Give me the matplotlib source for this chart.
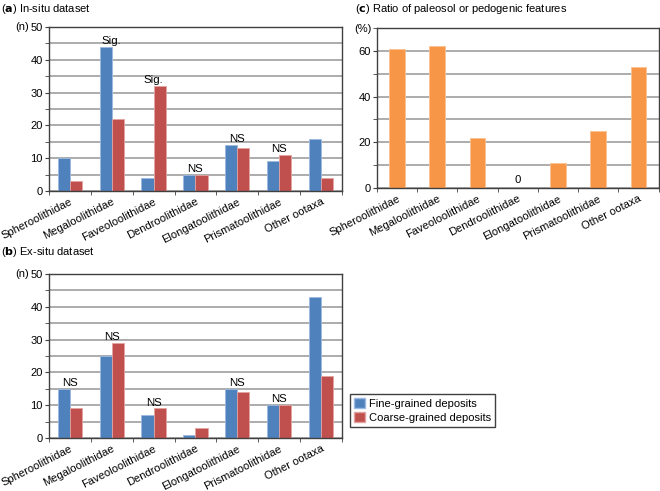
import matplotlib
matplotlib.use('Agg')
import matplotlib.pyplot as plt
from matplotlib.patches import Patch

plt.rcParams['font.family'] = ['Liberation Sans', 'DejaVu Sans']

taxa = ["Spheroolithidae", "Megaloolithidae", "Faveoloolithidae", "Dendroolithidae",
        "Elongatoolithidae", "Prismatoolithidae", "Other ootaxa"]

insitu_fine = [10, 44, 4, 5, 14, 9, 16]
insitu_coarse = [3, 22, 32, 5, 13, 11, 4]
insitu_marks = ["", "Sig.", "Sig.", "NS", "NS", "NS", ""]

exsitu_fine = [15, 25, 7, 1, 15, 10, 43]
exsitu_coarse = [9, 29, 9, 3, 14, 10, 19]
exsitu_marks = ["NS", "NS", "NS", "", "NS", "NS", ""]

paleosol_pct = [61, 62, 22, 0, 11, 25, 53]

BLUE = "#4F81BD"
RED = "#C0504D"
ORANGE = "#F79646"
GRID = "#A6A6A6"
FRAME = "#404040"
FS = 8.0


def style_axes(ax, ymax, major, minor):
    ax.set_xlim(-0.5, len(taxa) - 0.5)
    ax.set_ylim(0, ymax)
    ax.set_yticks(range(0, ymax + 1, major))
    ax.set_yticks(range(0, ymax + 1, minor), minor=True)
    ax.yaxis.grid(True, which="both", color=GRID, linewidth=1.3)
    ax.set_axisbelow(True)
    for s in ax.spines.values():
        s.set_color(FRAME)
        s.set_linewidth(1.0)
    ax.set_xticks(range(len(taxa)))
    ax.set_xticklabels(taxa, rotation=27, ha="right", rotation_mode="anchor", fontsize=FS)
    ax.set_xticks([i - 0.5 for i in range(len(taxa) + 1)], minor=True)
    ax.tick_params(axis="x", which="major", length=0, pad=4)
    ax.tick_params(axis="x", which="minor", length=3, color=FRAME, direction="out")
    ax.tick_params(axis="y", which="both", length=3, color=FRAME, labelsize=FS, pad=1.5)


def grouped(ax, fine, coarse, marks):
    w = 0.29
    x = range(len(taxa))
    ax.bar([i - w / 2 for i in x], fine, w, color=BLUE, edgecolor="#9DB9DF", linewidth=0.6)
    ax.bar([i + w / 2 for i in x], coarse, w, color=RED, edgecolor="#E3A3A1", linewidth=0.6)
    for i, m in enumerate(marks):
        if m:
            ax.annotate(m, (i, max(fine[i], coarse[i])), xytext=(0, 0.5),
                        textcoords="offset points", ha="center", va="bottom", fontsize=FS + 0.2)
    style_axes(ax, 50, 10, 5)


fig = plt.figure(figsize=(6.6, 4.91), dpi=100)

ax_a = fig.add_axes([0.0742, 0.611, 0.444, 0.334])
grouped(ax_a, insitu_fine, insitu_coarse, insitu_marks)

ax_b = fig.add_axes([0.0742, 0.108, 0.444, 0.334])
grouped(ax_b, exsitu_fine, exsitu_coarse, exsitu_marks)

ax_c = fig.add_axes([0.571, 0.617, 0.427, 0.326])
ax_c.bar(range(len(taxa)), paleosol_pct, 0.39, color=ORANGE, edgecolor="#FAC090", linewidth=0.6)
for i, v in enumerate(paleosol_pct):
    if v == 0:
        ax_c.annotate("0", (i, v), xytext=(0, 2), textcoords="offset points",
                      ha="center", va="bottom", fontsize=FS + 0.2)
style_axes(ax_c, 70, 20, 10)

# panel titles and unit labels
fig.text(0.002, 0.982, r"($\bf{a}$) In-situ dataset", fontsize=8.0, va="center")
fig.text(0.002, 0.487, r"($\bf{b}$) Ex-situ dataset", fontsize=8.0, va="center")
fig.text(0.538, 0.982, r"($\bf{c}$) Ratio of paleosol or pedogenic features", fontsize=8.0, va="center")
fig.text(0.023, 0.945, "(n)", fontsize=FS, va="center")
fig.text(0.023, 0.442, "(n)", fontsize=FS, va="center")
fig.text(0.536, 0.940, "(%)", fontsize=FS, va="center")

handles = [Patch(facecolor=BLUE, edgecolor="#9DB9DF"), Patch(facecolor=RED, edgecolor="#E3A3A1")]
leg = fig.legend(handles, ["Fine-grained deposits", "Coarse-grained deposits"],
                 loc="lower left", bbox_to_anchor=(0.530, 0.130), fontsize=FS,
                 fancybox=False, edgecolor=FRAME, framealpha=1, handlelength=1.0,
                 handleheight=1.0, handletextpad=0.3, borderpad=0.4, labelspacing=0.25,
                 borderaxespad=0)
leg.get_frame().set_linewidth(1.0)

fig.savefig("out.png", dpi=100)
